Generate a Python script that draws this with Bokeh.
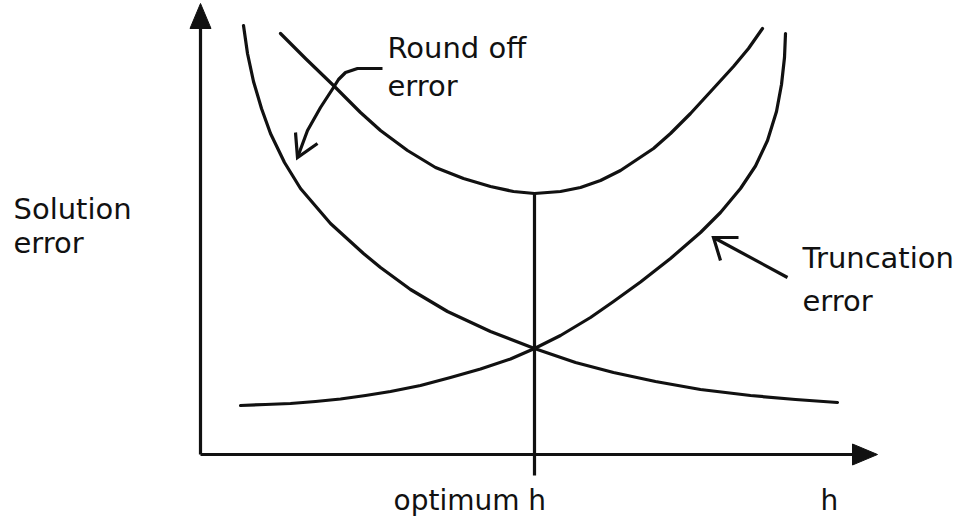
from bokeh.plotting import figure
from bokeh.models import Range1d
from bokeh.core.properties import value
from bokeh.embed import file_html
from bokeh.resources import INLINE

# ---- data (chart units: h to the right, error upward) ----
round_h = [4.3, 4.7, 5.3, 6.1, 7.0, 8.4, 10.0, 13.0, 16.3, 18.0, 21.0, 24.7, 29.0, 33.4, 37.5, 41.3, 45.5, 50.0, 55.0, 59.5, 63.7]
round_e = [42.9, 40.1, 37.3, 34.6, 32.1, 29.2, 26.6, 23.1, 20.1, 18.7, 16.5, 14.3, 12.3, 10.6, 9.2, 8.2, 7.3, 6.5, 5.9, 5.5, 5.2]

trunc_h = [4.0, 6.5, 9.0, 11.5, 14.0, 16.5, 19.0, 22.0, 25.0, 28.0, 31.0, 33.4, 36.0, 39.0, 41.3, 44.0, 47.0, 50.0, 52.0, 54.0, 55.5, 56.7, 57.6, 58.1, 58.4, 58.5]
trunc_e = [4.9, 5.0, 5.1, 5.3, 5.55, 5.9, 6.3, 6.9, 7.7, 8.55, 9.55, 10.6, 11.9, 13.7, 15.3, 17.25, 19.6, 22.2, 24.2, 26.6, 28.85, 31.4, 34.3, 37.0, 39.7, 42.1]

total_h = [8.0, 10.5, 13.3, 16.0, 18.0, 20.7, 23.5, 26.3, 29.0, 31.3, 33.4, 36.0, 38.0, 40.0, 42.0, 45.3, 47.0, 49.0, 51.2, 53.3, 54.8, 56.2]
total_e = [42.1, 39.6, 36.9, 34.2, 32.4, 30.4, 28.7, 27.6, 26.8, 26.3, 26.1, 26.3, 26.7, 27.4, 28.4, 30.6, 32.1, 34.1, 36.5, 38.8, 40.6, 42.6]

optimum_h = 33.4
total_min = 26.1

# axis geometry
x_axis_end = 67.7
y_axis_end = 45.1
head_len = 2.5
head_half = 1.05
tick_bottom = -2.1

# annotation arrows
ro_arrow_h = [18.2, 15.7, 14.5, 13.8, 13.3, 12.0, 10.7, 9.7]
ro_arrow_e = [38.6, 38.6, 38.2, 37.5, 36.7, 34.7, 32.4, 29.7]
ro_barbs_h = [[9.5, 9.7, 11.7]]
ro_barbs_e = [[32.2, 29.7, 31.1]]

tr_arrow_h = [58.7, 51.3]
tr_arrow_e = [17.7, 21.7]
tr_barbs_h = [[53.8, 51.3, 52.0]]
tr_barbs_e = [[21.7, 21.7, 19.4]]

label_texts = ["Round off", "error", "Solution", "error", "Truncation", "error"]
label_h = [18.7, 18.7, -18.7, -18.7, 60.2, 60.2]
label_e = [40.7, 36.9, 24.6, 21.2, 19.7, 15.4]

xlab_texts = ["optimum h", "h"]
xlab_h = [19.3, 62.0]
xlab_e = [-4.6, -4.6]

INK = "#111111"
FONT = value("DejaVu Sans")

p = figure(width=963, height=517, output_backend="svg", toolbar_location=None,
           x_range=Range1d(-20.0, 76.3), y_range=Range1d(-6.3, 45.4),
           min_border=0, min_border_left=0, min_border_right=0,
           min_border_top=0, min_border_bottom=0)
p.axis.visible = False
p.grid.visible = False
p.outline_line_color = None
p.background_fill_color = "white"
p.border_fill_color = "white"

LW = 3.2

# axes with arrowheads
p.line([0, 0], [0, y_axis_end - head_len], line_width=LW, line_color=INK)
p.line([0, x_axis_end - head_len], [0, 0], line_width=LW, line_color=INK)
p.patches(xs=[[-head_half, head_half, 0], [x_axis_end - head_len, x_axis_end - head_len, x_axis_end]],
          ys=[[y_axis_end - head_len, y_axis_end - head_len, y_axis_end], [-head_half, head_half, 0]],
          fill_color=INK, line_color=INK, line_width=1)

# curves
p.line(round_h, round_e, line_width=LW, line_color=INK, line_join="round", line_cap="round")
p.line(trunc_h, trunc_e, line_width=LW, line_color=INK, line_join="round", line_cap="round")
p.line(total_h, total_e, line_width=LW, line_color=INK, line_join="round", line_cap="round")

# optimum vertical line & tick
p.line([optimum_h, optimum_h], [total_min, tick_bottom], line_width=LW, line_color=INK)

# annotation arrows
p.line(ro_arrow_h, ro_arrow_e, line_width=LW, line_color=INK, line_join="round")
p.multi_line(ro_barbs_h, ro_barbs_e, line_width=LW, line_color=INK, line_join="miter")
p.line(tr_arrow_h, tr_arrow_e, line_width=LW, line_color=INK)
p.multi_line(tr_barbs_h, tr_barbs_e, line_width=LW, line_color=INK, line_join="miter")

# texts
p.text(label_h, label_e, text=label_texts, text_font=FONT, text_font_size="29px",
       text_color=INK, text_baseline="alphabetic", text_align="left")
p.text(xlab_h, xlab_e, text=xlab_texts, text_font=FONT, text_font_size="28px",
       text_color=INK, text_baseline="alphabetic", text_align="left")

open("out.html", "w").write(file_html(p, INLINE))
